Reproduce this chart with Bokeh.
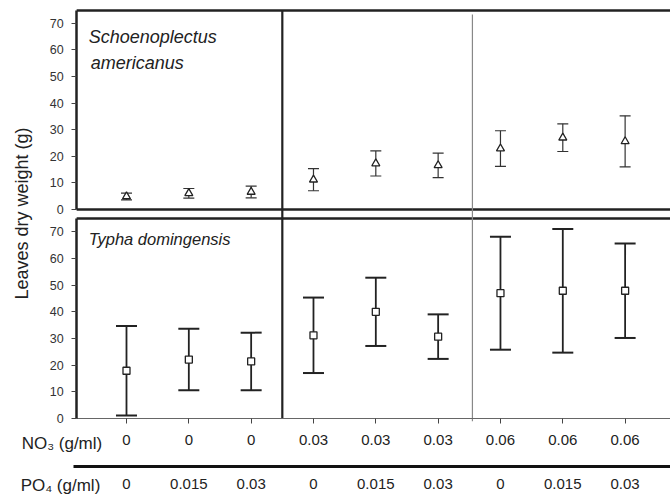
from math import pi
from bokeh.plotting import figure
from bokeh.models import (Range1d, LinearAxis, FixedTicker, Whisker, TeeHead,
                          ColumnDataSource, Label)
from bokeh.embed import file_html
from bokeh.resources import INLINE

# ---------------- data ----------------
treatment = [1, 2, 3, 4, 5, 6, 7, 8, 9]
no3_labels = ["0", "0", "0", "0.03", "0.03", "0.03", "0.06", "0.06", "0.06"]
po4_labels = ["0", "0.015", "0.03", "0", "0.015", "0.03", "0", "0.015", "0.03"]
schoeno_mean = [4.9, 6.1, 6.6, 11.2, 17.3, 16.6, 22.9, 27.0, 25.6]
schoeno_err = [1.25, 1.8, 2.2, 4.15, 4.7, 4.6, 6.7, 5.2, 9.6]
typha_mean = [17.9, 22.1, 21.4, 31.2, 40.0, 30.7, 47.0, 47.9, 47.9]
typha_err = [16.8, 11.55, 10.8, 14.15, 12.8, 8.35, 21.2, 23.2, 17.7]
y_ticks = [0, 10, 20, 30, 40, 50, 60, 70]
group_separators = [3.5]
minor_separators = [6.55]

FONT = "Liberation Sans"
DARK = "#222222"
X0, X1 = 0.2, 9.73          # left / right data edge of the panels
TOP_MAX, BOT_MAX = 74.8, 75  # upper value of each panel

# The frame fills the whole canvas; ranges are set so that the panels
# occupy the same place as in the original figure.
p = figure(width=670, height=498, output_backend="svg", toolbar_location=None,
           x_range=Range1d(-1.0215, 9.728), y_range=Range1d(-30.0, 156.75),
           x_axis_location=None, y_axis_location=None,
           min_border_left=0, min_border_right=0, min_border_top=0,
           min_border_bottom=0)
p.extra_y_ranges = {"top": Range1d(-108.65, 78.57)}
p.outline_line_color = None
p.grid.visible = False
p.background_fill_color = "white"
p.border_fill_color = "white"


def add_yaxis(range_name, upper):
    ax = LinearAxis(y_range_name=range_name, fixed_location=X0, bounds=(0, upper),
                    ticker=FixedTicker(ticks=y_ticks, minor_ticks=[]),
                    axis_line_width=2.5, axis_line_color=DARK,
                    major_tick_out=5, major_tick_in=0, major_tick_line_color="#444444",
                    minor_tick_out=0, minor_tick_in=0,
                    major_label_standoff=8, major_label_text_font=FONT,
                    major_label_text_font_size="12.5px", major_label_text_color="#333333")
    p.add_layout(ax, "left")


add_yaxis("top", TOP_MAX)
add_yaxis("default", BOT_MAX)

ax1 = LinearAxis(fixed_location=0, bounds=(X0, X1),
                 ticker=FixedTicker(ticks=treatment, minor_ticks=[]),
                 major_label_overrides={t: s for t, s in zip(treatment, no3_labels)},
                 axis_line_color="#666666", axis_line_width=1,
                 major_tick_out=5, major_tick_in=0, major_tick_line_color="#444444",
                 minor_tick_out=0, minor_tick_in=0, major_label_standoff=11,
                 major_label_text_font=FONT, major_label_text_font_size="15px",
                 major_label_text_color="#222222")
p.add_layout(ax1, "below")

ax2 = LinearAxis(fixed_location=-17.9, bounds=(0.15, X1),
                 ticker=FixedTicker(ticks=treatment, minor_ticks=[]),
                 major_label_overrides={t: s for t, s in zip(treatment, po4_labels)},
                 axis_line_color="#111111", axis_line_width=3,
                 major_tick_out=0, major_tick_in=0, minor_tick_out=0, minor_tick_in=0,
                 major_label_standoff=13,
                 major_label_text_font=FONT, major_label_text_font_size="15px",
                 major_label_text_color="#222222")
p.add_layout(ax2, "below")

# panel borders (top border & zero line of upper panel, top border of lower panel)
p.segment(x0=[X0, X0], y0=[TOP_MAX, 0], x1=[X1, X1], y1=[TOP_MAX, 0],
          line_width=2.5, line_color=DARK, y_range_name="top")
p.segment(x0=[X0], y0=[BOT_MAX], x1=[X1], y1=[BOT_MAX],
          line_width=2.5, line_color=DARK)

# treatment group separators
p.segment(x0=group_separators, y0=[0], x1=group_separators, y1=[153],
          line_width=2.2, line_color=DARK)
p.segment(x0=minor_separators, y0=[-1], x1=minor_separators, y1=[151.5],
          line_width=1.2, line_color="#888888")

# Schoenoplectus (top)
src_s = ColumnDataSource(dict(
    x=treatment, mean=schoeno_mean,
    upper=[m + e for m, e in zip(schoeno_mean, schoeno_err)],
    lower=[m - e for m, e in zip(schoeno_mean, schoeno_err)]))
p.add_layout(Whisker(base="x", upper="upper", lower="lower", source=src_s,
                     y_range_name="top", level="underlay",
                     line_color="#333333", line_width=1.2,
                     upper_head=TeeHead(size=11, line_color="#333333", line_width=1.2),
                     lower_head=TeeHead(size=11, line_color="#333333", line_width=1.2)))
p.scatter("x", "mean", source=src_s, marker="triangle", size=8,
          fill_color="white", line_color=DARK, line_width=1.3, y_range_name="top")

# Typha (bottom)
src_t = ColumnDataSource(dict(
    x=treatment, mean=typha_mean,
    upper=[m + e for m, e in zip(typha_mean, typha_err)],
    lower=[m - e for m, e in zip(typha_mean, typha_err)]))
p.add_layout(Whisker(base="x", upper="upper", lower="lower", source=src_t,
                     level="underlay", line_color=DARK, line_width=1.8,
                     upper_head=TeeHead(size=21, line_color=DARK, line_width=2),
                     lower_head=TeeHead(size=21, line_color=DARK, line_width=2)))
p.scatter("x", "mean", source=src_t, marker="square", size=7,
          fill_color="white", line_color=DARK, line_width=1.3)

# texts
p.add_layout(Label(x=X0, x_offset=12, y=64.8, y_range_name="top",
                   text="Schoenoplectus", text_font=FONT, text_font_style="italic",
                   text_font_size="18px", text_color=DARK, text_baseline="alphabetic"))
p.add_layout(Label(x=X0, x_offset=14, y=55.0, y_range_name="top",
                   text="americanus", text_font=FONT, text_font_style="italic",
                   text_font_size="18px", text_color=DARK, text_baseline="alphabetic"))
p.add_layout(Label(x=X0, x_offset=12, y=67.5,
                   text="Typha domingensis", text_font=FONT, text_font_style="italic",
                   text_font_size="16.5px", text_color=DARK, text_baseline="alphabetic"))
p.add_layout(Label(x=X0, x_offset=-55, y=76.9, angle=pi / 2,
                   text="Leaves dry weight (g)", text_font=FONT,
                   text_font_size="18px", text_color=DARK,
                   text_align="center", text_baseline="middle"))
p.add_layout(Label(x=X0, x_offset=-55, y=-9.4,
                   text="NO\u2083 (g/ml)", text_font=FONT,
                   text_font_size="17px", text_color=DARK, text_baseline="alphabetic"))
p.add_layout(Label(x=X0, x_offset=-56, y=-25.1,
                   text="PO\u2084 (g/ml)", text_font=FONT,
                   text_font_size="17px", text_color=DARK, text_baseline="alphabetic"))

open("out.html", "w").write(file_html(p, INLINE))
